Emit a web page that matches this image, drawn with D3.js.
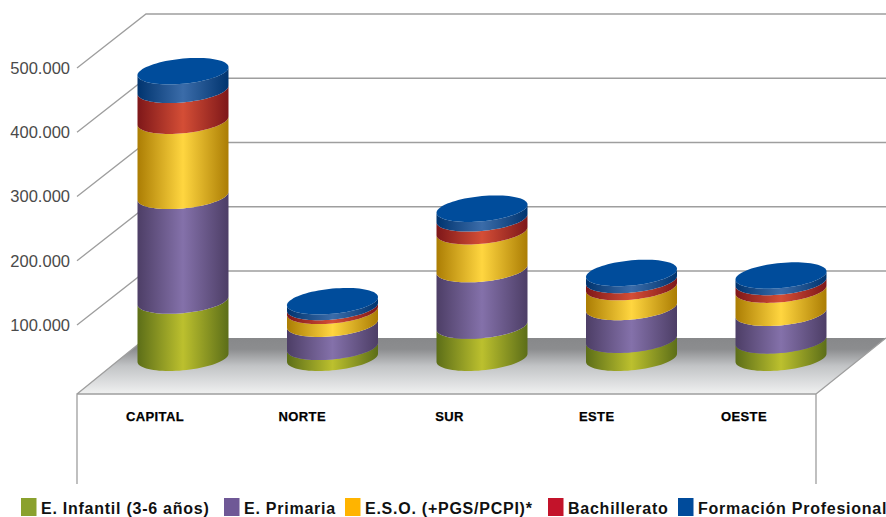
<!DOCTYPE html>
<html>
<head>
<meta charset="utf-8">
<script src="https://cdn.jsdelivr.net/npm/d3@7"></script>
<style>
html, body { margin: 0; padding: 0; background: #fff; overflow: hidden; }
svg { display: block; font-family: "Liberation Sans", Arial, sans-serif; }
</style>
</head>
<body>
<div id="viz"></div>
<script>
var categories = ["CAPITAL", "NORTE", "SUR", "ESTE", "OESTE"];
var seriesNames = ["E. Infantil (3-6 años)", "E. Primaria", "E.S.O. (+PGS/PCPI)*", "Bachillerato", "Formación Profesional"];
var infantil = [89000, 17000, 50000, 28000, 27000];
var primaria = [163000, 36000, 88000, 51000, 43000];
var eso = [117000, 20000, 59000, 31000, 36000];
var bachillerato = [48000, 6000, 20000, 11000, 12000];
var fp = [29000, 9000, 15000, 11000, 10000];
var tickValues = [100000, 200000, 300000, 400000, 500000];

var seriesValues = [infantil, primaria, eso, bachillerato, fp];
var legendColors = ["#8aa12e", "#6f5896", "#ffb400", "#c3132a", "#004b9b"];
var edgeColors = ["#5c6e18", "#4d3e66", "#ab7d04", "#7e1719", "#00346f"];
var midColors = ["#bcc02e", "#8471aa", "#ffd640", "#d44e36", "#3b6ca9"];
var capColor = "#004c9b";

var width = 886, height = 517;
var depthX = 69, depthY = -54;
var frontLeft = 77, frontRight = 816, floorFront = 394, floorBack = 338, wallBottom = 484;
var cylA = 45.5, cylB = 12.6, cylShear = 0.09;
var legendStarts = [21, 224, 345, 548, 678];

var SVG = d3.select("#viz").append("svg")
    .attr("width", width)
    .attr("height", height);

// back wall scale, the front ends of the grid lines are just offset from it
var y = d3.scaleLinear().domain([100000, 500000]).range([271, 14]);
var xBar = d3.scalePoint().domain(categories).range([183, 781]);
var xLabel = d3.scalePoint().domain(categories).range([155, 744]);
var baseY = y(0) + 22.5;

var defs = SVG.append("defs");

var floorGrad = defs.append("linearGradient")
    .attr("id", "floorGrad")
    .attr("x1", 0).attr("y1", 0).attr("x2", 0).attr("y2", 1);
floorGrad.append("stop").attr("offset", "0%").attr("stop-color", "#87888a");
floorGrad.append("stop").attr("offset", "20%").attr("stop-color", "#8c8d8f");
floorGrad.append("stop").attr("offset", "50%").attr("stop-color", "#c2c4c6");
floorGrad.append("stop").attr("offset", "100%").attr("stop-color", "#f0f1f1");

seriesNames.forEach(function(name, i) {
    var g = defs.append("linearGradient")
        .attr("id", "band" + i)
        .attr("x1", 0).attr("y1", 0).attr("x2", 1).attr("y2", 0);
    g.append("stop").attr("offset", "0%").attr("stop-color", edgeColors[i]);
    g.append("stop").attr("offset", "50%").attr("stop-color", midColors[i]);
    g.append("stop").attr("offset", "100%").attr("stop-color", edgeColors[i]);
});

// floor
SVG.append("path")
    .attr("d", "M" + frontLeft + "," + floorFront + "L" + frontRight + "," + floorFront +
        "L" + (frontRight + 70) + "," + floorBack + "L" + (frontLeft + 69) + "," + floorBack + "Z")
    .attr("fill", "url(#floorGrad)");

var lineColor = "#9e9e9e";

// grid lines, back wall and the side going down to the labels
tickValues.forEach(function(t) {
    SVG.append("polyline")
        .attr("points", [[frontLeft, y(t) - depthY], [frontLeft + depthX, y(t)], [width, y(t)]].join(" "))
        .attr("fill", "none")
        .attr("stroke", lineColor)
        .attr("stroke-width", 1.3);
    SVG.append("text")
        .attr("x", 70)
        .attr("y", y(t) - depthY)
        .attr("dy", "0.36em")
        .attr("text-anchor", "end")
        .attr("font-size", 16.5)
        .attr("fill", "#4a4a4a")
        .text(d3.format(",")(t).replace(/,/g, "."));
});

SVG.append("path")
    .attr("d", "M" + frontLeft + "," + wallBottom + "V" + floorFront + "H" + frontRight + "V" + wallBottom +
        "M" + frontLeft + "," + floorFront + "L" + (frontLeft + 69) + "," + floorBack +
        "M" + frontRight + "," + floorFront + "L" + (frontRight + 70) + "," + floorBack)
    .attr("fill", "none")
    .attr("stroke", lineColor)
    .attr("stroke-width", 1.3);

// points along the tilted ellipse, t in radians
function ellipsePoint(cx, cy, t) {
    var dx = cylA * Math.cos(t);
    return [cx + dx, cy + cylB * Math.sin(t) - cylShear * dx];
}

function frontArc(cx, cy, reverse) {
    var pts = d3.range(0, 41).map(function(i) {
        return ellipsePoint(cx, cy, Math.PI - Math.PI * i / 40);
    });
    return reverse ? pts.reverse() : pts;
}

var rows = categories.map(function(c, i) {
    var row = {category: c};
    seriesNames.forEach(function(s, j) { row[s] = seriesValues[j][i]; });
    return row;
});
var stacked = d3.stack().keys(seriesNames)(rows);

var line = d3.line();

categories.forEach(function(c, i) {
    var cx = xBar(c);
    stacked.forEach(function(layer, j) {
        var lowY = baseY - (y(0) - y(layer[i][0]));
        var topY = baseY - (y(0) - y(layer[i][1]));
        SVG.append("path")
            .attr("d", line(frontArc(cx, topY, false).concat(frontArc(cx, lowY, true))) + "Z")
            .attr("fill", "url(#band" + j + ")");
    });
    var capY = baseY - (y(0) - y(stacked[stacked.length - 1][i][1]));
    SVG.append("path")
        .attr("d", line(d3.range(0, 80).map(function(k) {
            return ellipsePoint(cx, capY, 2 * Math.PI * k / 80);
        })) + "Z")
        .attr("fill", capColor);

    SVG.append("text")
        .attr("x", xLabel(c))
        .attr("y", 421)
        .attr("text-anchor", "middle")
        .attr("font-size", 13)
        .attr("font-weight", "bold")
        .attr("letter-spacing", 0.4)
        .attr("stroke", "#000")
        .attr("stroke-width", 0.25)
        .attr("fill", "#000")
        .text(c);
});

// legend
seriesNames.forEach(function(name, i) {
    SVG.append("rect")
        .attr("x", legendStarts[i])
        .attr("y", 498)
        .attr("width", 15.5)
        .attr("height", 18)
        .attr("fill", legendColors[i]);
    SVG.append("text")
        .attr("x", legendStarts[i] + 20)
        .attr("y", 514)
        .attr("font-size", 16)
        .attr("font-weight", "bold")
        .attr("letter-spacing", 0.75)
        .attr("fill", "#111")
        .text(name);
});
</script>
</body>
</html>
